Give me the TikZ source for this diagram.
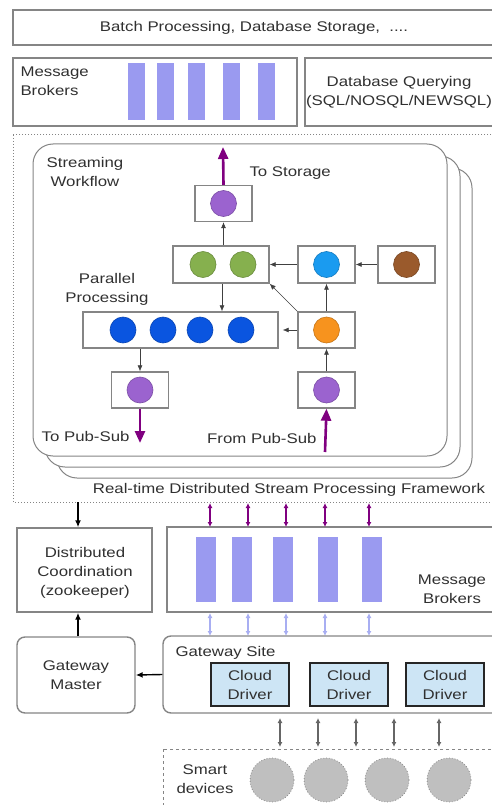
\documentclass[tikz,border=0pt]{standalone}
\usepackage{fontspec}
\setmainfont[FakeStretch=1.2]{Liberation Sans}
\usetikzlibrary{arrows.meta}
\definecolor{bord}{HTML}{858585}
\definecolor{txt}{HTML}{303030}
\definecolor{bar}{HTML}{9A9AF0}
\definecolor{lbar}{HTML}{A8AEF2}
\definecolor{purp}{HTML}{800080}
\definecolor{pdot}{HTML}{9B63CF}
\definecolor{gdot}{HTML}{86B04E}
\definecolor{sdot}{HTML}{1A9BF0}
\definecolor{bdot}{HTML}{9A5A2C}
\definecolor{ddot}{HTML}{0A55E0}
\definecolor{odot}{HTML}{F7931E}
\definecolor{cdrv}{HTML}{CDE5F5}
\begin{document}
\begin{tikzpicture}[x=1pt,y=-1pt,
  every node/.style={font=\fontsize{14}{19}\selectfont, text=txt, align=center},
  sbox/.style={draw=bord, line width=1.4pt, fill=white, inner sep=0pt},
  pbox/.style={draw=bord, line width=1.4pt, fill=white, inner sep=0pt, minimum width=57pt, minimum height=36pt},
  dot/.style={circle, inner sep=0pt, minimum size=26pt, draw=#1!80!black, line width=0.6pt, fill=#1},
  bars/.style={fill=bar, draw=none, inner sep=0pt},
  thin/.style={draw=black!75, line width=0.6pt, -{Latex[length=6pt,width=5pt]}},
  parr/.style={draw=purp, line width=2.6pt, -{Triangle[length=12pt,width=10pt]}},
  dbl/.style={line width=1.6pt, {Latex[length=5pt,width=5pt]}-{Latex[length=5pt,width=5pt]}},
  card/.style={draw=bord, line width=1pt, fill=white, rounded corners=20pt},
  gcirc/.style={circle, fill=black!25, draw=black!45, dotted, line width=0.8pt, minimum size=44pt, inner sep=0pt}
]
\useasboundingbox (0,0) rectangle (491,805);

% top rows
\node[sbox, minimum width=487pt, minimum height=35pt] (top) at (256.5,27.5) {};
\node (toptxt) at (254,28) {Batch Processing, Database Storage,\ \ ....};
\node[sbox, minimum width=284pt, minimum height=68pt] (mb1) at (155,92) {};
\node[align=left, anchor=north west] (mb1t) at (17,63) {Message\\Brokers};
\foreach \x [count=\i] in {136,165,196.5,231.5,266.5}
  \node[bars, minimum width=17pt, minimum height=57pt] (tb\i) at (\x,91.5) {};
\node[sbox, minimum width=195pt, minimum height=68pt] (dbq) at (402.5,92) {};
\node (dbqt) at (399,92) {Database Querying\\(SQL/NOSQL/NEWSQL)};

% framework
\draw[draw=bord, dotted, line width=1pt] (13,135) rectangle (500,502);
\node (fwt) at (289,490) {Real-time Distributed Stream Processing Framework};
\draw[card] (57,168) rectangle (472,478);
\draw[card] (45,156) rectangle (460,467);
\draw[card] (33,144) rectangle (447,456);
\node (swt) at (85,172) {Streaming\\Workflow};
\node (ppt) at (107,289) {Parallel\\Processing};

\node[pbox] (ps) at (223.5,203.5) {};
\node[dot=pdot] at (ps) {};
\node[pbox, minimum width=96pt, minimum height=37pt] (gr) at (221,264.5) {};
\node[dot=gdot] at (203,264.5) {};
\node[dot=gdot] at (243,264.5) {};
\node[pbox, minimum height=37pt] (bl) at (326.5,264.5) {};
\node[dot=sdot] at (bl) {};
\node[pbox, minimum height=37pt, line width=2.4pt] (br) at (406.5,264.5) {};
\node[dot=bdot] at (br) {};
\node[pbox, minimum width=195pt] (db) at (180.5,330) {};
\foreach \x in {123,163,200,241} \node[dot=ddot] at (\x,330) {};
\node[pbox] (or) at (326.5,330) {};
\node[dot=odot] at (or) {};
\node[pbox] (pl) at (140,390) {};
\node[dot=pdot] at (pl) {};
\node[pbox] (pr) at (326.5,390) {};
\node[dot=pdot] at (pr) {};

\coordinate (st) at (223,147);
\draw[parr] (ps.north) -- (st);
\node[anchor=west] (stt) at (246,173) {To Storage};
\draw[thin] (br.west) -- (bl.east);
\draw[thin] (bl.west) -- (gr.east);
\draw[thin] (gr.north -| ps) -- (ps.south);
\draw[thin] (gr.south -| 222,0) -- (db.north -| 222,0);
\draw[thin] (or.north west) -- (gr.south east);
\draw[thin] (or.north) -- (bl.south);
\draw[thin, shorten >=4pt] (or.west) -- (db.east);
\draw[thin] (db.south -| pl) -- (pl.north);
\draw[thin] (pr.north) -- (or.south);
\coordinate (tps) at (140,443);
\draw[parr] (pl.south) -- (tps);
\node[anchor=east] (tpst) at (133,436) {To Pub-Sub};
\coordinate (fps) at (325,452);
\draw[parr] (fps) -- (pr.south);
\node[anchor=east] (fpst) at (320,438) {From Pub-Sub};

% coordination
\node[sbox, minimum width=135pt, minimum height=84pt] (dc) at (84.5,570) {};
\node (dct) at (85,573) {Distributed\\Coordination\\(zookeeper)};
\coordinate (fwb) at (78,502);
\draw[draw=black, line width=1.4pt, -{Latex[length=7pt,width=6pt]}] (fwb) -- (dc.north -| fwb);

\node[sbox, minimum width=333pt, minimum height=85pt] (mb2) at (333.5,569.5) {};
\node (mb2t) at (452,589) {Message\\Brokers};
\foreach \x [count=\i] in {206,242,282.5,327.5,372}{
  \node[bars, minimum width=20pt, minimum height=65pt] (lb\i) at (\x,569.5) {};
}
\foreach \x in {210,248,286,325,369}{
  \draw[dbl, draw=purp] (\x,503) -- (\x,527);
  \draw[dbl, draw=lbar] (\x,613) -- (\x,636);
}

% gateway
\node[sbox, rounded corners=8pt, minimum width=118pt, minimum height=76pt] (gm) at (76,675) {};
\node (gmt) at (76,675) {Gateway\\Master};
\draw[draw=black, line width=1.4pt, -{Latex[length=7pt,width=6pt]}] (gm.north -| 78,0) -- (dc.south -| 78,0);
\node[sbox, rounded corners=8pt, minimum width=340pt, minimum height=77pt] (gs) at (333,674.5) {};
\node[anchor=west] (gst) at (172,653) {Gateway Site};
\draw[draw=black, line width=1.4pt, -{Latex[length=7pt,width=6pt]}] (gs.west) -- (gm.east);
\foreach \x [count=\i] in {250,349,445}{
  \node[draw=black!85, line width=1.6pt, fill=cdrv, minimum width=78pt, minimum height=43pt, inner sep=0pt] (cd\i) at (\x,684.5) {};
  \node at (\x,685) {Cloud\\Driver};
}

% smart devices
\draw[draw=bord, dashed, line width=1pt] (163,749) rectangle (500,810);
\node (sdt) at (205,779) {Smart\\devices};
\foreach \x in {272,326,387,449} \node[gcirc] at (\x,780) {};
\foreach \x in {280,318,356,394,439}
  \draw[dbl, draw=black!60] (\x,718) -- (\x,747);
\end{tikzpicture}
\end{document}
